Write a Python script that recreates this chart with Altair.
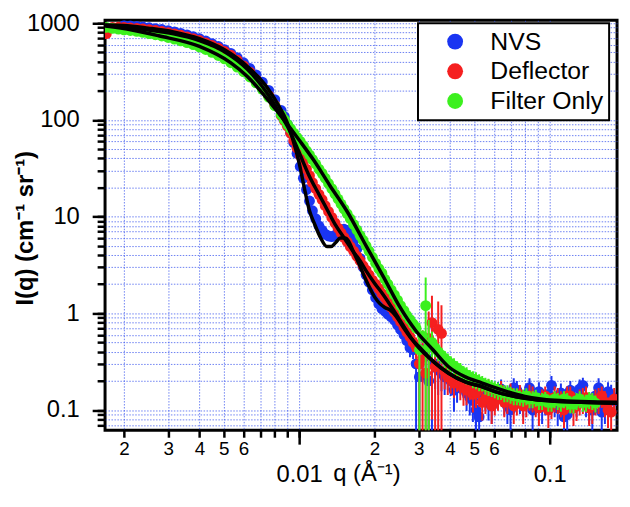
import altair as alt
import pandas as pd

SERIES = ["NVS", "Deflector", "Filter Only"]
COLORS = ["#1a35f2", "#f51f1f", "#3cf01e"]
Y_TITLE = "I(q) (cm⁻¹ sr⁻¹)"
X_TITLE = "q (Å⁻¹)"

# main q grid
Q = [0.00170, 0.00180, 0.00190, 0.00200, 0.00212, 0.00225, 0.00238, 0.00252, 0.00267, 0.00283,
     0.00300, 0.00318, 0.00337, 0.00357, 0.00378, 0.00400, 0.00424, 0.00449, 0.00476, 0.00504,
     0.00534, 0.00566, 0.00600, 0.00636, 0.00673, 0.00713, 0.00756, 0.00800, 0.00848, 0.00898,
     0.00952, 0.0101, 0.0107, 0.0113, 0.0120, 0.0127, 0.0135, 0.0143, 0.0151, 0.0160,
     0.0170, 0.0180, 0.0190, 0.0202, 0.0214, 0.0226, 0.0240, 0.0254, 0.0269, 0.0285,
     0.0302, 0.0320, 0.0339, 0.0359, 0.0381, 0.0403, 0.0427, 0.0453, 0.0480, 0.0508,
     0.0538, 0.0570, 0.0604, 0.0640, 0.0678, 0.0719, 0.0761, 0.0807, 0.0855, 0.0906,
     0.0960, 0.1017, 0.1077, 0.1141, 0.1209, 0.1281, 0.1357, 0.1438, 0.1523, 0.1614,
     0.1710, 0.1810]

I_NVS = [None, None, None, 945, 937, 927, 914, 898, 880, 860,
         838, 813, 786, 756, 724, 692, 655, 616, 575, 532,
         487, 440, 390, 340, 292, 246, 202, 162, 125, 90,
         58, 33, 19, 11.5, 8.0, 6.6, 6.2, 6.9, 7.4, 6.6,
         4.6, 3.0, 2.1, 1.45, 1.12, 0.98, 0.85, 0.68, 0.52, 0.42,
         0.22, 0.36, 0.48, 0.26, 0.22, 0.20, 0.17, 0.19, 0.135, 0.10,
         0.16, 0.12, 0.14, 0.165, 0.11, 0.17, 0.13, 0.145, 0.10, 0.155,
         0.125, 0.18, 0.105, 0.085, 0.16, 0.12, 0.18, 0.11, 0.14, 0.095,
         0.155, 0.125]

I_DEF = [780, 905, 908, 905, 895, 885, 872, 857, 840, 820,
         800, 776, 750, 722, 693, 662, 627, 590, 552, 510,
         466, 415, 362, 312, 262, 217, 178, 142, 111, 86,
         61, 43, 31, 22.5, 17, 13, 9.8, 7.6, 6.1, 4.9,
         3.9, 3.1, 2.5, 2.0, 1.6, 1.3, 1.03, 0.82, 0.64, 0.50,
         0.30, 0.24, 0.80, 0.68, 0.25, 0.21, 0.22, 0.17, 0.18, 0.15,
         0.12, 0.16, 0.125, 0.16, 0.13, 0.11, 0.145, 0.12, 0.135, 0.105,
         0.14, 0.115, 0.13, 0.10, 0.14, 0.11, 0.13, 0.105, 0.125, 0.14,
         0.10, 0.13]

I_FIL = [905, 885, 868, 855, 840, 822, 803, 782, 760, 737,
         712, 686, 658, 630, 600, 568, 535, 500, 464, 428,
         390, 352, 315, 278, 242, 207, 172, 140, 113, 90,
         73, 60, 48, 39, 31, 25, 19.5, 15.2, 12, 9.5,
         7.3, 5.7, 4.4, 3.3, 2.6, 2.0, 1.55, 1.2, 0.95, 0.78,
         0.42, 1.2, 0.50, 0.40, 0.34, 0.30, 0.27, 0.24, 0.22, 0.205,
         0.19, 0.175, 0.165, 0.155, 0.15, 0.14, 0.135, 0.14, 0.13, 0.125,
         0.13, 0.12, 0.125, 0.13, 0.115, 0.125, 0.12, 0.128, 0.118, None,
         None, None]

# relative errors for the main-grid points from Q[48] (0.0269) onwards
ERR_FROM = 48
REL_ERR_NVS = [0.12, 0.2, 0.9, 0.5, 0.95, 0.45, 0.35, 0.3, 0.3, 0.3,
               0.35, 0.45, 0.3, 0.35, 0.3, 0.25, 0.35, 0.25, 0.3, 0.3,
               0.4, 0.25, 0.3, 0.25, 0.35, 0.4, 0.25, 0.3, 0.2, 0.35,
               0.3, 0.4, 0.25, 0.3]
REL_ERR_DEF = [0.12, 0.2, 0.85, 0.9, 0.9, 0.95, 0.35, 0.3, 0.3, 0.35,
               0.3, 0.3, 0.35, 0.3, 0.3, 0.25, 0.3, 0.35, 0.25, 0.3,
               0.3, 0.35, 0.25, 0.3, 0.3, 0.35, 0.25, 0.3, 0.3, 0.35,
               0.3, 0.25, 0.35, 0.3]
REL_ERR_FIL = [0.1, 0.12, 0.9, 0.95, 0.3, 0.2, 0.2, 0.2, 0.18, 0.18,
               0.18, 0.2, 0.18, 0.2, 0.2, 0.18, 0.2, 0.2, 0.18, 0.2,
               0.2, 0.2, 0.18, 0.2, 0.2, 0.2, 0.2, 0.2, 0.2, 0.2,
               0.2, None, None, None]

# in-between q points (denser sampling at higher q)
QM = [0.00873, 0.00925, 0.00981, 0.0104, 0.0110, 0.01165, 0.01235, 0.0131, 0.0139, 0.0147,
      0.01555, 0.0165, 0.0175, 0.0185, 0.0196, 0.0208, 0.0220, 0.0233, 0.0247, 0.0262,
      0.0277, 0.0293, 0.0311, 0.0329, 0.0349, 0.0370, 0.0392, 0.0415, 0.0440, 0.0466,
      0.0494, 0.0523, 0.0554, 0.0587, 0.0622, 0.0659, 0.0698, 0.0740, 0.0784, 0.0831,
      0.0880, 0.0933, 0.0988, 0.1047, 0.1109, 0.1175, 0.1245, 0.1318, 0.1397, 0.1480,
      0.1568, 0.1662, 0.1760]

IM_NVS = [108, 74, 45, 25, 14.5, 9.5, 7.2, 6.3, 6.4, 7.2,
          7.2, 5.6, 3.7, 2.5, 1.75, 1.25, 1.05, 0.92, 0.76, 0.60,
          0.44, 0.30, 0.42, 0.20, 0.30, 0.24, 0.23, 0.16, 0.21, 0.15,
          0.125, 0.085, 0.14, 0.11, 0.15, 0.125, 0.10, 0.16, 0.12, 0.17,
          0.13, 0.11, 0.145, 0.12, 0.15, 0.09, 0.135, 0.165, 0.12, 0.10,
          0.17, 0.11, 0.14]
IM_DEF = [98, 73, 51, 37, 26.5, 19.5, 15, 11.3, 8.6, 6.8,
          5.5, 4.4, 3.5, 2.8, 2.2, 1.8, 1.45, 1.15, 0.92, 0.72,
          0.57, 0.45, 0.35, 0.55, 0.28, 0.62, 0.22, 0.19, 0.18, 0.16,
          0.145, 0.17, 0.13, 0.11, 0.14, 0.12, 0.15, 0.125, 0.11, 0.14,
          0.12, 0.13, 0.10, 0.135, 0.12, 0.14, 0.105, 0.125, 0.135, 0.11,
          0.13, 0.12, 0.095]
IM_FIL = [101, 81, 66, 54, 43.5, 35, 28, 22, 17.2, 13.5,
          10.7, 8.3, 6.4, 5.0, 3.8, 2.9, 2.25, 1.75, 1.37, 1.07,
          0.86, 0.70, 0.58, 0.45, 0.44, 0.37, 0.32, 0.285, 0.255, 0.23,
          0.21, 0.195, 0.18, 0.17, 0.16, 0.15, 0.145, 0.14, 0.135, 0.13,
          0.135, 0.125, 0.12, 0.13, 0.12, 0.125, 0.115, 0.13, 0.12, 0.125,
          None, None, None]

# relative errors for the in-between points from QM[19] (0.0262) onwards
MID_ERR_FROM = 19
REL_ERRM_NVS = [0.12, 0.2, 0.85, 0.5, 0.9, 0.45, 0.35, 0.3, 0.4, 0.3,
                0.35, 0.4, 0.6, 0.3, 0.35, 0.3, 0.3, 0.4, 0.25, 0.3,
                0.25, 0.3, 0.35, 0.3, 0.3, 0.25, 0.45, 0.3, 0.25, 0.3,
                0.4, 0.25, 0.35, 0.3]
REL_ERRM_DEF = [0.12, 0.15, 0.25, 0.9, 0.9, 0.85, 0.95, 0.35, 0.3, 0.3,
                0.3, 0.35, 0.3, 0.3, 0.35, 0.3, 0.3, 0.25, 0.3, 0.35,
                0.3, 0.3, 0.25, 0.35, 0.3, 0.3, 0.25, 0.35, 0.3, 0.3,
                0.35, 0.3, 0.3, 0.4]
REL_ERRM_FIL = [0.08, 0.1, 0.12, 0.15, 0.9, 0.2, 0.18, 0.2, 0.2, 0.2,
                0.2, 0.2, 0.2, 0.2, 0.2, 0.2, 0.2, 0.2, 0.2, 0.2,
                0.2, 0.2, 0.2, 0.2, 0.2, 0.2, 0.2, 0.2, 0.2, 0.2,
                0.2, None, None, None]

FIT_Q_NVS = [0.00168, 0.0020, 0.0025, 0.00315, 0.0040, 0.0050, 0.00623, 0.00748, 0.0084, 0.0089,
             0.0094, 0.0100, 0.01057, 0.0110, 0.0115, 0.0122, 0.0129, 0.0134, 0.0140, 0.0146,
             0.0152, 0.0158, 0.0163, 0.0172, 0.0181, 0.0190, 0.0200, 0.0210, 0.0220, 0.0232,
             0.0244, 0.0260, 0.0280, 0.0300, 0.0342, 0.0395, 0.0461, 0.0538, 0.0606, 0.0797,
             0.105, 0.1858]
FIT_I_NVS = [960, 950, 890, 813, 692, 537, 355, 214, 132, 98,
             65, 36, 18, 11.5, 8.5, 6.0, 4.9, 4.9, 5.4, 6.0,
             6.0, 5.5, 4.6, 3.4, 2.5, 1.9, 1.48, 1.26, 1.15, 1.07,
             0.93, 0.72, 0.55, 0.457, 0.32, 0.24, 0.195, 0.174, 0.155, 0.132,
             0.123, 0.1175]

FIT_Q_DEF = [0.00168, 0.0020, 0.0025, 0.00315, 0.0040, 0.0050, 0.00623, 0.00748, 0.0084, 0.0090,
             0.0100, 0.0110, 0.0120, 0.0129, 0.0140, 0.0152, 0.0163, 0.0175, 0.0186, 0.0200,
             0.0217, 0.0251, 0.0292, 0.0342, 0.0395, 0.0461, 0.0538, 0.0606, 0.0797, 0.105,
             0.1858]
FIT_I_DEF = [955, 912, 851, 776, 661, 513, 331, 186, 115, 85,
             46, 26, 17, 12, 8.1, 5.9, 4.5, 3.5, 2.7, 2.05,
             1.55, 0.87, 0.48, 0.32, 0.24, 0.195, 0.174, 0.155, 0.132, 0.123,
             0.1175]

FIT_Q_FIL = [0.00168, 0.00215, 0.00275, 0.0040, 0.00534, 0.00623, 0.00768, 0.0087, 0.0100, 0.01146,
             0.01326, 0.01548, 0.01858, 0.02168, 0.02506, 0.02924, 0.0342, 0.0395, 0.0461, 0.0538,
             0.0606, 0.0797, 0.1047, 0.1858]
FIT_I_FIL = [933, 851, 741, 575, 389, 280, 150, 100, 62, 38,
             21, 11.5, 4.9, 2.4, 1.2, 0.66, 0.42, 0.28, 0.22, 0.19,
             0.17, 0.138, 0.126, 0.12]

X_TICKS = [0.002, 0.003, 0.004, 0.005, 0.006, 0.007, 0.008, 0.009,
           0.01, 0.02, 0.03, 0.04, 0.05, 0.06, 0.07, 0.08, 0.09, 0.1]
X_TICK_TEXT = ["2", "3", "4", "5", "6", "", "", "",
               "", "2", "3", "4", "5", "6", "", "", "", ""]
X_MAJOR = [0.01, 0.1]
X_MAJOR_TEXT = ["0.01", "0.1"]

Y_TICKS = [0.07, 0.08, 0.09,
           0.1, 0.2, 0.3, 0.4, 0.5, 0.6, 0.7, 0.8, 0.9,
           1, 2, 3, 4, 5, 6, 7, 8, 9,
           10, 20, 30, 40, 50, 60, 70, 80, 90,
           100, 200, 300, 400, 500, 600, 700, 800, 900, 1000]
Y_MAJOR = [0.1, 1, 10, 100, 1000]
Y_MAJOR_TEXT = ["0.1", "1", "10", "100", "1000"]

X_DOMAIN = [0.00168, 0.1858]
Y_DOMAIN = [0.0617, 1072]

PLOT_TOP = 10


def label_expr(values, texts):
    parts = [f"datum.value == {v} ? '{t}'" for v, t in zip(values, texts) if t]
    return " : ".join(parts) + " : ''"


FONT = "Liberation Sans"
COMMON = dict(labelFont=FONT, labelColor="black", labelOverlap=False, labelFlush=False,
              tickColor="black", tickWidth=2.5, domain=False)
GRID = dict(grid=True, gridColor="#3a55ee", gridDash=[1.5, 1.5], gridWidth=1, gridOpacity=0.75)

x_minor_axis = alt.Axis(
    orient="bottom", values=X_TICKS, labelExpr=label_expr(X_TICKS, X_TICK_TEXT),
    title=X_TITLE, titleFontSize=24, titleFontWeight="normal", titleFont=FONT,
    titleColor="black", titleX=264, titleY=51, titleBaseline="alphabetic",
    tickSize=7, labelFontSize=19, labelPadding=2, **COMMON, **GRID,
)
x_major_axis = alt.Axis(
    orient="bottom", values=X_MAJOR, labelExpr=label_expr(X_MAJOR, X_MAJOR_TEXT),
    title=None, tickSize=14, labelFontSize=24, labelPadding=19, grid=False, **COMMON,
)
y_minor_axis = alt.Axis(
    orient="left", values=Y_TICKS, labels=False, title=None,
    tickSize=8, **COMMON, **GRID,
)
y_major_axis = alt.Axis(
    orient="left", values=Y_MAJOR, labelExpr=label_expr(Y_MAJOR, Y_MAJOR_TEXT),
    title=None, tickSize=13, labelFontSize=24, labelPadding=13, grid=False, **COMMON,
)

xs = alt.Scale(type="log", domain=X_DOMAIN, nice=False)
ys = alt.Scale(type="log", domain=Y_DOMAIN, nice=False)

legend = alt.Legend(
    title=None, orient="none", legendX=316, legendY=21 - 8 - PLOT_TOP,
    fillColor="white", strokeColor="black", padding=6,
    symbolType="circle", symbolSize=256, symbolOffset=19, symbolOpacity=1,
    symbolStrokeWidth=0, labelOffset=23, labelFontSize=25, labelFont=FONT,
    labelColor="black", rowPadding=4, labelLimit=300,
)
color = alt.Color("series:N", scale=alt.Scale(domain=SERIES, range=COLORS), legend=legend)


def err_rows(qs, ivals, rerr, start):
    rows = []
    for k, r in enumerate(rerr):
        i = start + k
        if r is None or ivals[i] is None:
            continue
        v = ivals[i]
        rows.append({"q": qs[i], "lo": max(v * (1 - r), 0.03), "hi": v * (1 + r)})
    return rows


layers = []
first = True
for name, col, iv, ivm, re, rem in [
    ("NVS", COLORS[0], I_NVS, IM_NVS, REL_ERR_NVS, REL_ERRM_NVS),
    ("Deflector", COLORS[1], I_DEF, IM_DEF, REL_ERR_DEF, REL_ERRM_DEF),
    ("Filter Only", COLORS[2], I_FIL, IM_FIL, REL_ERR_FIL, REL_ERRM_FIL),
]:
    pts = pd.concat([
        pd.DataFrame({"q": Q, "I": iv}),
        pd.DataFrame({"q": QM, "I": ivm}),
    ]).dropna().sort_values("q")
    pts["series"] = name
    edf = pd.DataFrame(err_rows(Q, iv, re, ERR_FROM) + err_rows(QM, ivm, rem, MID_ERR_FROM))
    xa = x_minor_axis if first else None
    ya = y_minor_axis if first else None
    first = False
    layers.append(
        alt.Chart(edf).mark_rule(color=col, strokeWidth=2, clip=True).encode(
            x=alt.X("q:Q", scale=xs, axis=xa),
            y=alt.Y("lo:Q", scale=ys, axis=ya),
            y2=alt.Y2("hi:Q"))
    )
    layers.append(
        alt.Chart(pts).mark_circle(size=120, opacity=1, clip=True).encode(
            x=alt.X("q:Q", scale=xs, axis=None),
            y=alt.Y("I:Q", scale=ys, axis=None),
            color=color)
    )

fits = pd.concat([
    pd.DataFrame({"q": FIT_Q_NVS, "I": FIT_I_NVS, "fit": "NVS"}),
    pd.DataFrame({"q": FIT_Q_DEF, "I": FIT_I_DEF, "fit": "Deflector"}),
    pd.DataFrame({"q": FIT_Q_FIL, "I": FIT_I_FIL, "fit": "Filter Only"}),
])
layers.append(
    alt.Chart(fits).mark_line(color="black", strokeWidth=3.5, clip=True, interpolate="monotone").encode(
        x=alt.X("q:Q", scale=xs, axis=x_major_axis),
        y=alt.Y("I:Q", scale=ys, axis=y_major_axis),
        detail="fit:N")
)

# y-axis title as a rotated text mark beside the axis
layers.append(
    alt.Chart(pd.DataFrame({"t": [Y_TITLE]})).mark_text(
        angle=270, font=FONT, fontSize=24, fontWeight="bold", align="center",
        baseline="alphabetic", color="black", clip=False,
    ).encode(text="t:N", x=alt.value(-73), y=alt.value(210))
)

chart = alt.layer(*layers).resolve_axis(x="independent", y="independent").properties(
    width=517, height=432 - 8 - PLOT_TOP,
    padding={"left": 98, "top": PLOT_TOP, "right": 5, "bottom": 70},
    autosize=alt.AutoSizeParams(type="none"),
).configure_view(
    stroke="black", strokeWidth=3
).configure_legend(
    strokeWidth=2
)

chart.save("out.html", embed_options={"renderer": "svg", "actions": False})
